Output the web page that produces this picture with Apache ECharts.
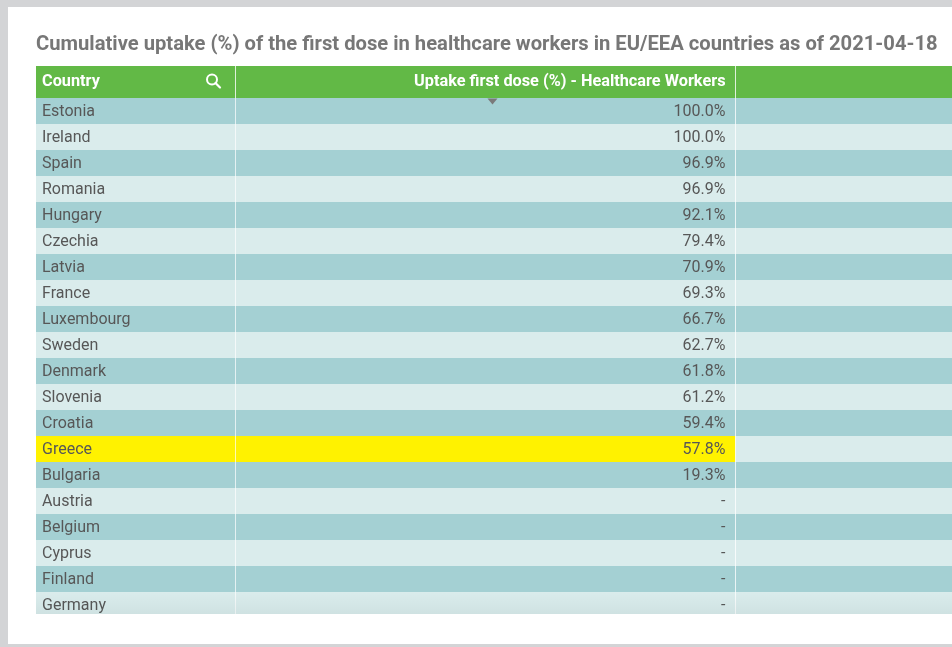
<!DOCTYPE html>
<html>
<head>
<meta charset="utf-8">
<script src="https://cdn.jsdelivr.net/npm/echarts@6/dist/echarts.min.js"></script>
<style>
  html, body { margin: 0; padding: 0; background: #d3d4d6; }
  #main { width: 952px; height: 647px; }
</style>
</head>
<body>
<div id="main"></div>
<script>
var countries = ['Estonia', 'Ireland', 'Spain', 'Romania', 'Hungary', 'Czechia', 'Latvia',
  'France', 'Luxembourg', 'Sweden', 'Denmark', 'Slovenia', 'Croatia', 'Greece',
  'Bulgaria', 'Austria', 'Belgium', 'Cyprus', 'Finland', 'Germany'];
var uptake = [100.0, 100.0, 96.9, 96.9, 92.1, 79.4, 70.9, 69.3, 66.7, 62.7, 61.8,
  61.2, 59.4, 57.8, 19.3, null, null, null, null, null];
var highlighted = 'Greece';

var titleText = 'Cumulative uptake (%) of the first dose in healthcare workers in EU/EEA countries as of 2021-04-18';
var colNames = ['Country', 'Uptake first dose (%) - Healthcare Workers'];

// table layout
var tableLeft = 36, headTop = 66, rowH = 26;
var colW = [199.5, 500, 300];
var visibleRows = 516 / rowH;   // last row is cut off by the scroll box

var dark = '#a4d0d3', light = '#daecec', yellow = '#fff200', green = '#62b946';
var textColor = '#575757';
var font = 'Roboto, "Noto Sans", sans-serif';

var dom = document.getElementById('main');
var myChart = echarts.init(dom, null, { renderer: 'canvas' });

function renderRow(params, api) {
  var i = api.value(0);
  var v = api.value(1);
  var top = api.coord([0, i])[1];
  var h = api.coord([0, i + 1])[1] - top;
  var x0 = params.coordSys.x;
  var bg = i % 2 === 0 ? dark : light;
  var hi = countries[i] === highlighted;
  var x1 = x0 + colW[0], x2 = x1 + colW[1];
  var label = (v == null || isNaN(v)) ? '-' : v.toFixed(1) + '%';
  return {
    type: 'group',
    children: [
      { type: 'rect', shape: { x: x0, y: top, width: colW[0] + colW[1], height: h },
        style: { fill: hi ? yellow : bg } },
      { type: 'rect', shape: { x: x2, y: top, width: colW[2], height: h },
        style: { fill: bg } },
      { type: 'rect', shape: { x: x1 - 0.5, y: top, width: 1, height: h },
        style: { fill: 'rgba(255,255,255,0.7)' } },
      { type: 'rect', shape: { x: x2 - 0.5, y: top, width: 1, height: h },
        style: { fill: 'rgba(255,255,255,0.7)' } },
      { type: 'text', x: x0 + 6, y: top + h / 2 + 0.5,
        style: { text: countries[i], fill: textColor, font: '16px ' + font,
          textAlign: 'left', textVerticalAlign: 'middle' } },
      { type: 'text', x: x2 - 10, y: top + h / 2 + 0.5,
        style: { text: label, fill: textColor, font: '16px ' + font,
          textAlign: 'right', textVerticalAlign: 'middle' } }
    ]
  };
}

var option = {
  backgroundColor: '#d3d4d6',
  animation: false,
  title: {
    text: titleText,
    left: tableLeft,
    top: 35,
    padding: 0,
    textStyle: { fontFamily: font, fontSize: 20.2, fontWeight: 'bold', color: '#777777' }
  },
  grid: { left: tableLeft, top: headTop + 32, width: 952 - tableLeft, height: 516 },
  xAxis: { type: 'value', min: 0, max: 1, show: false },
  yAxis: { type: 'value', min: 0, max: visibleRows, inverse: true, show: false },
  graphic: [
    { type: 'rect', z: -10, shape: { x: 8, y: 7, width: 960, height: 637 },
      style: { fill: '#ffffff' } },
    { type: 'rect', shape: { x: tableLeft, y: headTop, width: 952 - tableLeft, height: 32 },
      style: { fill: green } },
    { type: 'rect', shape: { x: tableLeft + colW[0] - 0.5, y: headTop, width: 1, height: 32 },
      style: { fill: 'rgba(255,255,255,0.8)' } },
    { type: 'rect', shape: { x: tableLeft + colW[0] + colW[1] - 0.5, y: headTop, width: 1, height: 32 },
      style: { fill: 'rgba(255,255,255,0.8)' } },
    { type: 'text', x: tableLeft + 6, y: headTop + 16,
      style: { text: colNames[0], fill: '#ffffff', font: 'bold 16.3px ' + font,
        textAlign: 'left', textVerticalAlign: 'middle' } },
    { type: 'text', x: tableLeft + colW[0] + colW[1] - 10, y: headTop + 16,
      style: { text: colNames[1], fill: '#ffffff', font: 'bold 16.3px ' + font,
        textAlign: 'right', textVerticalAlign: 'middle' } },
    // search icon
    { type: 'circle', shape: { cx: 212, cy: 79.5, r: 5 },
      style: { fill: 'none', stroke: '#ffffff', lineWidth: 2 } },
    { type: 'line', shape: { x1: 215.5, y1: 83, x2: 220, y2: 87.5 },
      style: { stroke: '#ffffff', lineWidth: 2.2, lineCap: 'round' } },
    // sort marker
    { type: 'polygon', z: 100, shape: { points: [[487.5, 98.5], [497.5, 98.5], [492.5, 104.5]] },
      style: { fill: '#7a7a7a' } },
    // fade at the bottom of the scroll box
    { type: 'rect', z: 100, shape: { x: tableLeft, y: 592, width: 952 - tableLeft, height: 22 },
      style: { fill: new echarts.graphic.LinearGradient(0, 0, 0, 1, [
        { offset: 0, color: 'rgba(0,40,40,0)' },
        { offset: 1, color: 'rgba(0,40,40,0.05)' }]) } }
  ],
  series: [{
    type: 'custom',
    clip: true,
    renderItem: renderRow,
    encode: { x: 1, y: 0 },
    data: countries.map(function (c, i) { return [i, uptake[i] == null ? NaN : uptake[i]]; })
  }]
};

myChart.setOption(option, true);
</script>
</body>
</html>
